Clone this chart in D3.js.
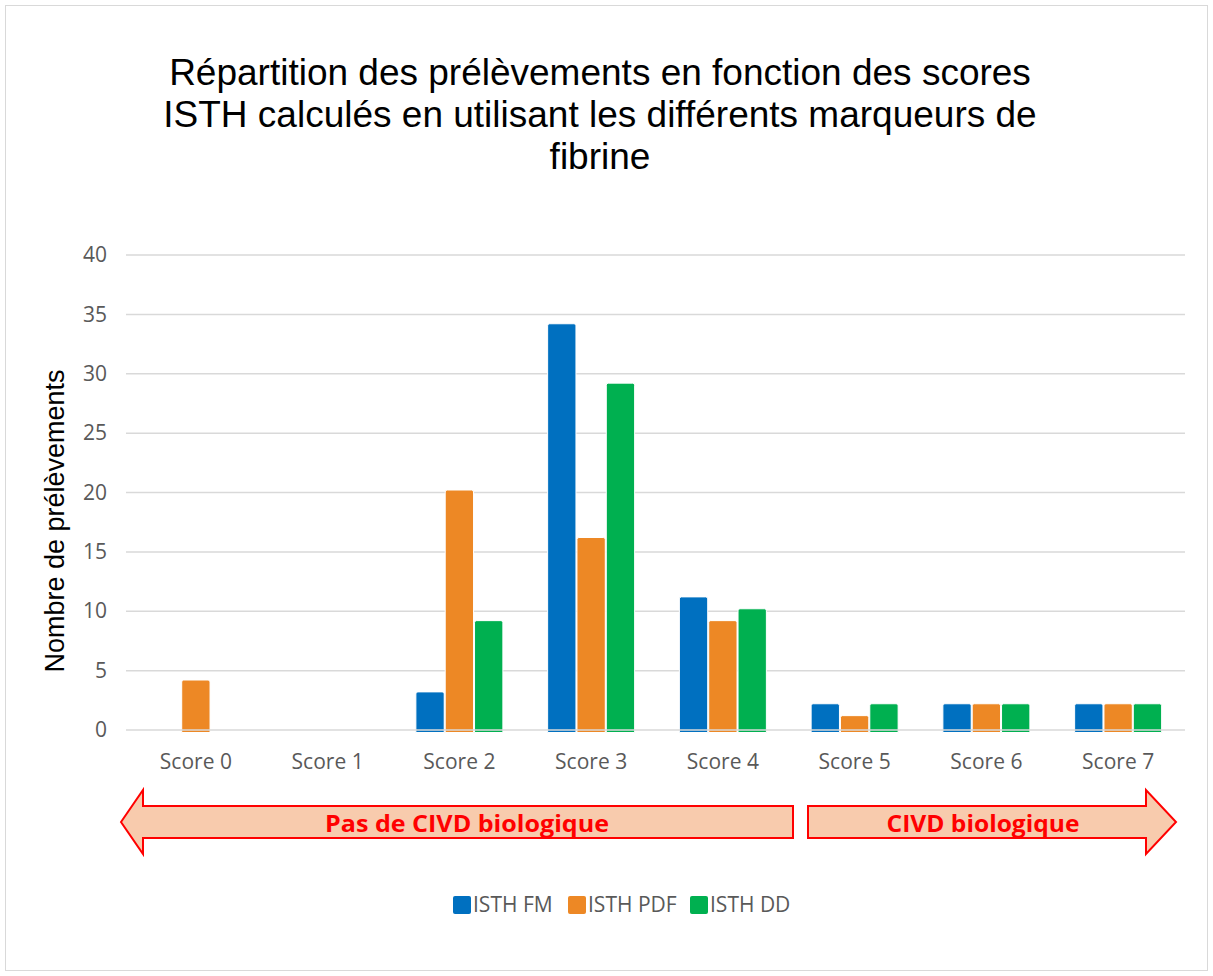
<!DOCTYPE html>
<html>
<head>
<meta charset="utf-8">
<script src="https://cdn.jsdelivr.net/npm/d3@7"></script>
<style>
  body { margin: 0; background: #fff; }
</style>
</head>
<body>
<svg id="chart" width="1213" height="976"></svg>
<script>
const width = 1213, height = 976;

// data
const scores = ['Score 0','Score 1','Score 2','Score 3','Score 4','Score 5','Score 6','Score 7'];
const seriesNames = ['ISTH FM','ISTH PDF','ISTH DD'];
const fm  = [0, 0, 3, 34, 11, 2, 2, 2];
const pdf = [4, 0, 20, 16, 9, 1, 2, 2];
const dd  = [0, 0, 9, 29, 10, 2, 2, 2];
const yTicks = [0, 5, 10, 15, 20, 25, 30, 35, 40];
const colours = ['#0070C0', '#ED8825', '#00B050'];

const sans = '"Liberation Sans", Arial, sans-serif';
const light = '"Open Sans", sans-serif';

const svg = d3.select('#chart');

// outer frame
svg.append('rect')
  .attr('x', 5.5).attr('y', 5.5)
  .attr('width', width - 11).attr('height', height - 11)
  .attr('fill', '#fff').attr('stroke', '#d9d9d9');

const plotLeft = 126, plotRight = 1185, plotTop = 255, plotBottom = 730;

const x = d3.scaleBand().domain(scores).range([130, 1184]);
const groupW = 88;
const x1 = d3.scaleBand().domain(seriesNames)
  .range([(x.bandwidth() - groupW) / 2, (x.bandwidth() + groupW) / 2]);
const y = d3.scaleLinear().domain([0, 40]).range([plotBottom, plotTop]);

// title
const titleLines = ['Répartition des prélèvements en fonction des scores',
  'ISTH calculés en utilisant les différents marqueurs de', 'fibrine'];
svg.append('text')
  .attr('x', 600).attr('y', 85)
  .attr('text-anchor', 'middle')
  .style('font-family', sans).style('font-size', '37px')
  .attr('fill', '#000')
  .selectAll('tspan').data(titleLines).enter()
  .append('tspan')
  .attr('x', 600)
  .attr('dy', (d, i) => i == 0 ? 0 : 42)
  .text(d => d);

// gridlines
svg.append('g')
  .selectAll('line').data(yTicks.filter(t => t > 0)).enter()
  .append('line')
  .attr('x1', plotLeft).attr('x2', plotRight)
  .attr('y1', d => y(d)).attr('y2', d => y(d))
  .attr('stroke', '#d9d9d9').attr('stroke-width', 1.5);

// y tick labels
const yAxis = d3.axisLeft(y).tickValues(yTicks).tickSize(0).tickPadding(0);
const gy = svg.append('g').attr('transform', `translate(${plotLeft - 19},0)`).call(yAxis);
gy.select('.domain').remove();
gy.selectAll('text')
  .attr('fill', '#595959')
  .style('font-family', light).style('font-size', '21px');

svg.append('text')
  .attr('transform', `translate(64,521) rotate(-90)`)
  .attr('text-anchor', 'middle')
  .style('font-family', sans).style('font-size', '27px')
  .attr('fill', '#000')
  .text('Nombre de prélèvements');

// bars
const table = scores.map((s, i) => ({ score: s, values: [fm[i], pdf[i], dd[i]] }));
const groups = svg.append('g').selectAll('g').data(table).enter()
  .append('g')
  .attr('transform', d => `translate(${x(d.score)},0)`);

groups.selectAll('path')
  .data(d => d.values.map((v, j) => ({ name: seriesNames[j], v: v, j: j })).filter(e => e.v > 0))
  .enter()
  .append('path')
  .attr('d', d => {
    const bx = x1(d.name) + 0.5, bw = x1.bandwidth() - 1;
    const by = y(d.v) - 2.5, bb = y(0) + 2.5, r = 2;
    return `M${bx},${bb}V${by + r}Q${bx},${by} ${bx + r},${by}H${bx + bw - r}Q${bx + bw},${by} ${bx + bw},${by + r}V${bb}Z`;
  })
  .attr('fill', d => colours[d.j])
  .attr('stroke', '#fff').attr('stroke-width', 1);

// zero line on top
svg.append('line')
  .attr('x1', plotLeft).attr('x2', plotRight)
  .attr('y1', y(0)).attr('y2', y(0))
  .attr('stroke', '#d9d9d9').attr('stroke-width', 1.5);

// x labels
const xAxis = d3.axisBottom(x).tickSize(0).tickPadding(0);
const gx = svg.append('g').attr('transform', `translate(0,769)`).call(xAxis);
gx.select('.domain').remove();
gx.selectAll('text')
  .attr('fill', '#595959')
  .style('font-family', light).style('font-size', '21px')
  .attr('dy', 0);

// arrows
const arrowTop = 790, arrowBot = 854, bodyTop = 806, bodyBot = 838;
const leftArrow = [[121, 822], [143, arrowTop], [143, bodyTop], [793, bodyTop], [793, bodyBot], [143, bodyBot], [143, arrowBot]];
const rightArrow = [[808, bodyTop], [1146, bodyTop], [1146, arrowTop], [1176, 822], [1146, arrowBot], [1146, bodyBot], [808, bodyBot]];
const line = d3.line();
[leftArrow, rightArrow].forEach(p => {
  svg.append('path')
    .attr('d', line(p) + 'Z')
    .attr('fill', '#F8CBAD')
    .attr('stroke', '#FF0000').attr('stroke-width', 2)
    .attr('stroke-linejoin', 'miter');
});
svg.append('text').attr('x', 467).attr('y', 832)
  .attr('text-anchor', 'middle')
  .style('font-family', light).style('font-size', '23px').style('font-weight', 'bold')
  .attr('fill', '#FF0000')
  .attr('textLength', 284).attr('lengthAdjust', 'spacingAndGlyphs')
  .text('Pas de CIVD biologique');
svg.append('text').attr('x', 983).attr('y', 832)
  .attr('text-anchor', 'middle')
  .style('font-family', light).style('font-size', '23px').style('font-weight', 'bold')
  .attr('fill', '#FF0000')
  .attr('textLength', 193).attr('lengthAdjust', 'spacingAndGlyphs')
  .text('CIVD biologique');

// legend
const legendX = [453, 568, 690];
const legend = svg.append('g').selectAll('g').data(seriesNames).enter()
  .append('g')
  .attr('transform', (d, i) => `translate(${legendX[i]},896)`);
legend.append('rect')
  .attr('width', 18).attr('height', 18).attr('rx', 2)
  .attr('fill', (d, i) => colours[i]);
legend.append('text')
  .attr('x', 20).attr('y', 16)
  .attr('fill', '#595959')
  .style('font-family', light).style('font-size', '21px')
  .text(d => d);
</script>
</body>
</html>
